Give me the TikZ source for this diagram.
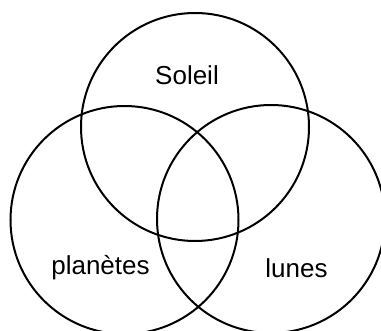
\documentclass[tikz,border=0pt]{standalone}
\usepackage{fontspec}
\setmainfont{Liberation Sans}
\begin{document}
\begin{tikzpicture}[x=0.75pt,y=-0.75pt,
  ring/.style={line width=1.5pt},
  every node/.style={font=\fontsize{19.5}{23}\selectfont}]
  \useasboundingbox (0,0) rectangle (381,331);
  \clip (0,0) rectangle (381,331);

  % circle centres
  \coordinate (csoleil) at (195,127);
  \coordinate (cplanetes) at (124.5,220);
  \coordinate (clunes) at (271,219);

  % the three sets
  \draw[ring] (csoleil) circle[radius=114];
  \draw[ring] (cplanetes) circle[radius=114];
  \draw[ring] (clunes) circle[radius=114];

  % labels
  \node (soleil) at (187,75) {Soleil};
  \node (planetes) at (100.5,268) {planètes};
  \node (lunes) at (296.5,268) {lunes};
\end{tikzpicture}
\end{document}
